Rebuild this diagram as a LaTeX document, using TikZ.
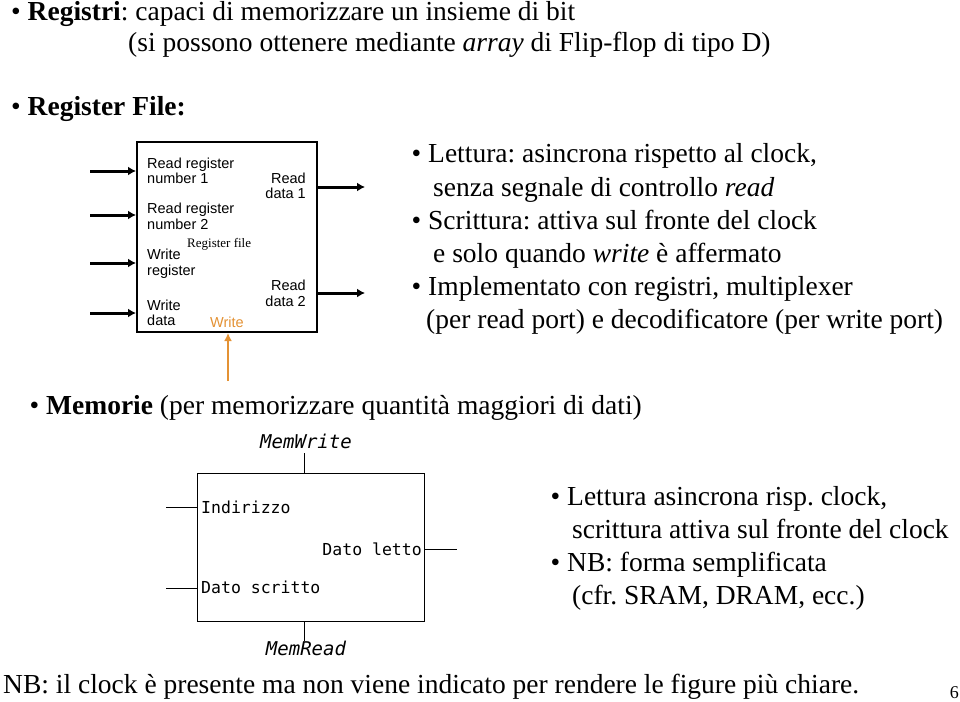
\documentclass[tikz,border=0pt]{standalone}
\usepackage{fontspec}
\setmainfont{Liberation Serif}
\setsansfont{Liberation Sans}
\setmonofont{DejaVu Sans Mono}
\usetikzlibrary{positioning, arrows.meta}
\definecolor{wrorange}{RGB}{228,146,52}
\frenchspacing

\begin{document}
\begin{tikzpicture}[
    x=1pt, y=-1pt,
    txt/.style={anchor=base west, inner sep=0pt, font=\fontsize{27.5}{32}\selectfont},
    lbl/.style={anchor=base west, inner sep=0pt, font=\sffamily\fontsize{14.5}{17}\selectfont},
    rlbl/.style={lbl, anchor=base east},
    mono/.style={anchor=base west, inner sep=0pt, font=\ttfamily\fontsize{16.5}{20}\selectfont},
    sig/.style={anchor=base, inner sep=0pt, font=\ttfamily\itshape\fontsize{19}{22}\selectfont},
    rfbox/.style={
        rectangle, draw=black, line width=2pt, fill=white,
        minimum width=180pt, minimum height=190pt
    },
    membox/.style={
        rectangle, draw=black, line width=1pt,
        minimum width=227pt, minimum height=148pt
    },
    bus/.style={draw, line width=3pt, -{Latex[length=8pt,width=9pt]}},
    wire/.style={draw, line width=1pt}
]
\useasboundingbox (0,0) rectangle (960,701);

% Top lines
\node[txt] (reg1) at (11,21) {\textbullet\ \textbf{Registri}: capaci di memorizzare un insieme di bit};
\node[txt] (reg2) at (128,52) {(si possono ottenere mediante \textit{array} di Flip-flop di tipo D)};
\node[txt] (rfhead) at (11,115) {\textbullet\ \textbf{Register File:}};

% Register file block
\node[rfbox] (rf) at (227,237) {};
\node[lbl] (rr1a) at (147,168) {Read register};
\node[lbl] (rr1b) at (147,183) {number 1};
\node[lbl] (rr2a) at (147,213) {Read register};
\node[lbl] (rr2b) at (147,229) {number 2};
\node[anchor=base west, inner sep=0pt, font=\fontsize{13}{15}\selectfont] (rfname) at (187,247) {Register file};
\node[lbl] (wra) at (147,259) {Write};
\node[lbl] (wrb) at (147,275) {register};
\node[lbl] (wda) at (147,310) {Write};
\node[lbl] (wdb) at (147,325) {data};
\node[lbl, text=wrorange] (wren) at (210,327) {Write};
\node[rlbl] (rd1a) at (306,183) {Read};
\node[rlbl] (rd1b) at (306,198) {data 1};
\node[rlbl] (rd2a) at (306,290) {Read};
\node[rlbl] (rd2b) at (306,306) {data 2};

% Ports
\coordinate (in1) at (90,171);
\coordinate (in2) at (90,215);
\coordinate (in3) at (90,263);
\coordinate (in4) at (90,313);
\coordinate (out1) at (365,187);
\coordinate (out2) at (365,293);
\coordinate (wsig) at (228,381);
\draw[bus] (in1) -- (in1 -| rf.west);
\draw[bus] (in2) -- (in2 -| rf.west);
\draw[bus] (in3) -- (in3 -| rf.west);
\draw[bus] (in4) -- (in4 -| rf.west);
\draw[bus] (out1 -| rf.east) -- (out1);
\draw[bus] (out2 -| rf.east) -- (out2);
\draw[draw=wrorange, line width=2pt, -{Latex[length=8pt,width=8pt]}] (wsig) -- (wsig |- rf.south);

% Register file notes
\node[txt] (n1) at (411.5,162) {\textbullet\ Lettura: asincrona rispetto al clock,};
\node[txt] (n2) at (433,196) {senza segnale di controllo \textit{read}};
\node[txt] (n3) at (411.5,229) {\textbullet\ Scrittura: attiva sul fronte del clock};
\node[txt] (n4) at (433,262) {e solo quando \textit{write} è affermato};
\node[txt] (n5) at (411.5,295) {\textbullet\ Implementato con registri, multiplexer};
\node[txt] (n6) at (426,328) {(per read port) e decodificatore (per write port)};

% Memories
\node[txt] (mem) at (29.5,414) {\textbullet\ \textbf{Memorie} (per memorizzare quantità maggiori di dati)};

\node[membox] (mb) at (310.5,547) {};
\node[mono] (addr) at (201,513) {Indirizzo};
\node[mono] (wdat) at (201,593) {Dato scritto};
\node[mono, anchor=base east] (rdat) at (422,555) {Dato letto};
\node[sig] (mw) at (306,448) {MemWrite};
\node[sig] (mr) at (306,655) {MemRead};

\coordinate (maddr) at (166,507);
\coordinate (mwdat) at (166,588);
\coordinate (mrdat) at (457,549);
\coordinate (mwtop) at (304,453);
\coordinate (mrbot) at (304,641);
\draw[wire] (maddr) -- (maddr -| mb.west);
\draw[wire] (mwdat) -- (mwdat -| mb.west);
\draw[wire] (mrdat -| mb.east) -- (mrdat);
\draw[wire] (mwtop) -- (mwtop |- mb.north);
\draw[wire] (mb.south -| mrbot) -- (mrbot);

% Memory notes
\node[txt] (m1) at (550.5,505) {\textbullet\ Lettura asincrona risp. clock,};
\node[txt] (m2) at (572,538) {scrittura attiva sul fronte del clock};
\node[txt] (m3) at (550.5,571) {\textbullet\ NB: forma semplificata};
\node[txt] (m4) at (572,604) {(cfr. SRAM, DRAM, ecc.)};

% Footer
\node[txt] (nb) at (3,693) {NB: il clock è presente ma non viene indicato per rendere le figure più chiare.};
\node[anchor=base east, inner sep=0pt, font=\fontsize{18}{20}\selectfont] (pg) at (959,698) {6};
\end{tikzpicture}
\end{document}
